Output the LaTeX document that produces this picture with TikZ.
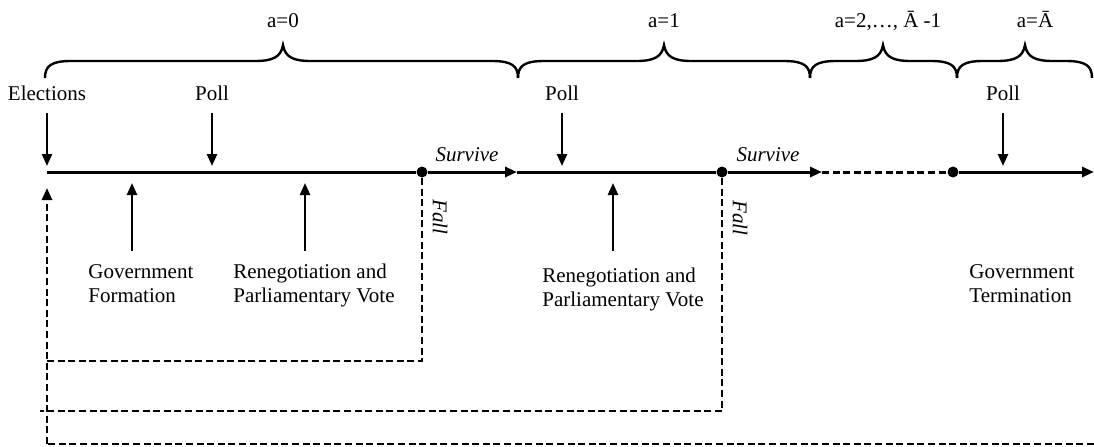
\documentclass[tikz,border=0pt]{standalone}
\usepackage{fontspec}
\setmainfont{Liberation Serif}
\usetikzlibrary{arrows.meta}

\begin{document}
\begin{tikzpicture}[x=0.5pt,y=-0.5pt,
  txt/.style={inner sep=0pt,font=\fontsize{10.5}{12}\selectfont},
  itl/.style={txt,font=\fontsize{10.5}{12}\selectfont\itshape},
  lbl/.style={txt,align=left,anchor=north west},
  tip/.style={-{Triangle[length=6pt,width=5pt]}},
  arr/.style={line width=1.2pt,tip},
  timeline/.style={line width=1.5pt},
  fall/.style={line width=1.2pt,dash pattern=on 3.5pt off 1.8pt},
  dot/.style={circle,fill,inner sep=0pt,minimum size=5.5pt},
  brc/.style={line width=1.2pt}]
\useasboundingbox (0,0) rectangle (1094,446);

% Periods (start, tip, end)
\foreach \xa/\xm/\xb in {45/283/518, 518/664/810, 810/883/957, 957/1025/1092}
  \draw[brc] (\xa,78) .. controls (\xa,66) and (\xa+6,61) .. (\xa+26,61)
    -- (\xm-28,61) .. controls (\xm-10,61) and (\xm-2,57) .. (\xm,45)
    .. controls (\xm+2,57) and (\xm+10,61) .. (\xm+28,61)
    -- (\xb-26,61) .. controls (\xb-6,61) and (\xb,66) .. (\xb,78);
\node[txt,anchor=base] (a0) at (283,27) {a=0};
\node[txt,anchor=base] (a1) at (664,27) {a=1};
\node[txt,anchor=base] (a2) at (888,27) {a=2,…, Ā -1};
\node[txt,anchor=base] (aA) at (1035,27) {a=Ā};

% Time line
\coordinate (t0) at (47,172);
\node[dot] (f0) at (422,172) {};
\coordinate (s0) at (517,172);
\node[dot] (f1) at (722,172) {};
\coordinate (s1) at (822,172);
\node[dot] (d2) at (953,172) {};
\coordinate (tend) at (1094,172);
\draw[timeline] (t0) -- (f0);
\draw[timeline,tip] (f0) -- (s0);
\draw[timeline] (s0) -- (f1);
\draw[timeline,tip] (f1) -- (s1);
\draw[timeline,dash pattern=on 3.5pt off 1.8pt] (s1) -- (d2);
\draw[timeline,tip] (d2) -- (tend);
\node[itl,anchor=base] (sv0) at (467,161) {Survive};
\node[itl,anchor=base] (sv1) at (768,161) {Survive};

% Events above
\node[txt,anchor=base] (el) at (47,100) {Elections};
\node[txt,anchor=base] (p0) at (212,100) {Poll};
\node[txt,anchor=base] (p1) at (562,100) {Poll};
\node[txt,anchor=base] (p2) at (1003,100) {Poll};
\foreach \n in {el,p0,p1,p2}
  \draw[arr,shorten <=6.5pt,shorten >=3pt] (\n.base) -- (\n.base |- t0);

% Events below
\node[lbl] (gf) at (88,264) {Government\\Formation};
\node[lbl] (rn0) at (233,264) {Renegotiation and\\Parliamentary Vote};
\node[lbl] (rn1) at (542,268) {Renegotiation and\\Parliamentary Vote};
\node[lbl] (gt) at (969,264) {Government\\Termination};
\coordinate (u0) at (132,251);
\coordinate (u1) at (305,251);
\coordinate (u2) at (613,251);
\foreach \u in {u0,u1,u2}
  \draw[arr,shorten >=5.5pt] (\u) -- (\u |- t0);

% Fall and back to elections
\coordinate (r0) at (47,361);
\coordinate (r1) at (40,411);
\coordinate (r2) at (47,444);
\coordinate (rend) at (1094,444);
\draw[fall] (f0) |- (r0);
\draw[fall] (f1) |- (r1);
\draw[fall] (rend) -- (r2);
\draw[fall,tip,shorten >=8pt] (r2) -- (t0);
\node[itl,rotate=-90] (fl0) at (440,217) {Fall};
\node[itl,rotate=-90] (fl1) at (740,218) {Fall};
\end{tikzpicture}
\end{document}
